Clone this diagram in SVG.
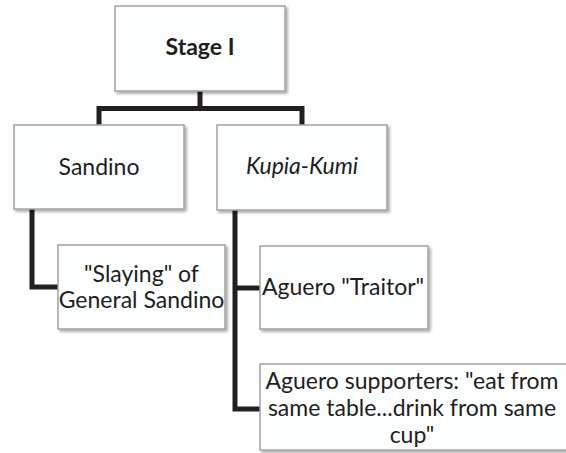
<svg xmlns="http://www.w3.org/2000/svg" width="566" height="453" viewBox="0 0 566 453">
  <defs>
    <filter id="shadow" x="-10%" y="-10%" width="125%" height="130%">
      <feGaussianBlur in="SourceAlpha" stdDeviation="1.6"/>
      <feOffset dx="1.5" dy="2" result="b"/>
      <feComponentTransfer><feFuncA type="linear" slope="0.35"/></feComponentTransfer>
      <feMerge><feMergeNode/><feMergeNode in="SourceGraphic"/></feMerge>
    </filter>
  </defs>
  <style>
    .box { fill: #fcfdfd; stroke: #a3a3a3; stroke-width: 1.5; filter: url(#shadow); }
    .lbl { font-family: Lato, "Open Sans", sans-serif; font-size: 23px; fill: #1e1e1e; text-anchor: middle; }
    .link { fill: none; stroke: #231f20; stroke-width: 5; stroke-linejoin: miter; }
  </style>
  <rect width="566" height="453" fill="#ffffff"/>

  <!-- connectors -->
  <g id="connectors">
    <path class="link" d="M200 91 V108.5"/>
    <path class="link" d="M99 125 V108.5 H302 V125"/>
    <path class="link" d="M32 209 V287 H58"/>
    <path class="link" d="M235 210 V409 H260"/>
    <path class="link" d="M235 288 H260"/>
  </g>

  <g id="stage1">
    <rect class="box" x="115" y="6" width="170" height="85"/>
    <text class="lbl" x="200" y="55" font-weight="bold" font-size="22">Stage I</text>
  </g>

  <g id="sandino">
    <rect class="box" x="14" y="125" width="170" height="84"/>
    <text class="lbl" x="99" y="175">Sandino</text>
  </g>

  <g id="kupia-kumi">
    <rect class="box" x="217" y="125" width="170" height="85"/>
    <text class="lbl" x="302" y="174" font-style="italic">Kupia-Kumi</text>
  </g>

  <g id="slaying">
    <rect class="box" x="58" y="245" width="167" height="84"/>
    <text class="lbl" x="141.5" y="282">"Slaying" of</text>
    <text class="lbl" x="141.5" y="308">General Sandino</text>
  </g>

  <g id="aguero-traitor">
    <rect class="box" x="260" y="246" width="168" height="83"/>
    <text class="lbl" x="343" y="295">Aguero "Traitor"</text>
  </g>

  <g id="aguero-supporters">
    <rect class="box" x="260" y="364" width="310" height="86"/>
    <text class="lbl" x="412" y="389">Aguero supporters: "eat from</text>
    <text class="lbl" x="412" y="416">same table...drink from same</text>
    <text class="lbl" x="412" y="443">cup"</text>
  </g>
</svg>
